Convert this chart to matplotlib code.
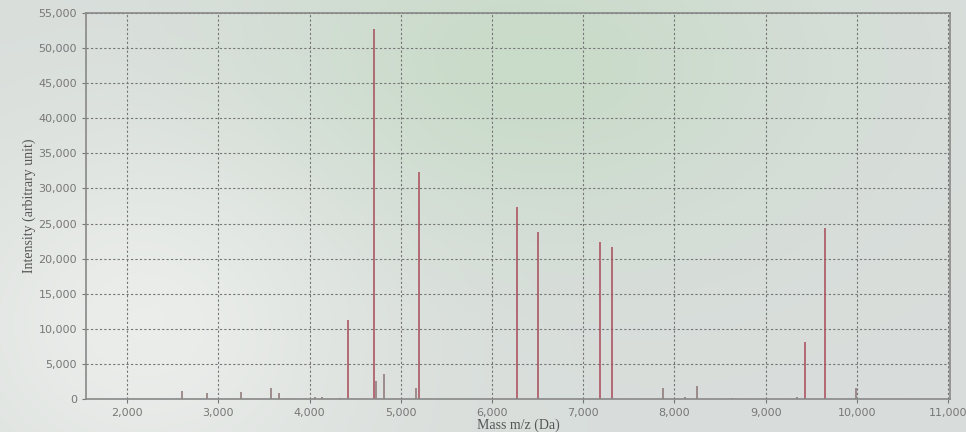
import numpy as np
import matplotlib
matplotlib.use("Agg")
import matplotlib.pyplot as plt
from matplotlib.ticker import FuncFormatter, MultipleLocator

# peak list (m/z in Da, intensity in arbitrary units)
mz = [2600, 2880, 3250, 3580, 3670, 4060, 4140, 4330, 4420, 4710, 4730, 4820,
      5170, 5200, 6270, 6500, 7180, 7310, 7870, 8120, 8250, 8630, 9340, 9430,
      9650, 9990]
intensity = [1100, 800, 1000, 1500, 900, 300, 300, 150, 11300, 52700, 2600, 3600,
             1600, 32300, 27300, 23800, 22400, 21700, 1500, 300, 1800, 200, 300, 8100,
             24300, 1600]

x_ticks = list(range(2000, 11001, 1000))
y_ticks = list(range(0, 55001, 5000))

fig = plt.figure(figsize=(9.66, 4.32), dpi=100)
fig.patch.set_facecolor("#dcdfdc")

# photo-like background tint behind everything
bg = fig.add_axes([0, 0, 1, 1], zorder=-1)
yy, xx = np.mgrid[0:1:200j, 0:1:400j]
green = np.exp(-((xx - 0.55) ** 2 / 0.08 + (yy - 0.15) ** 2 / 0.15))
light = np.exp(-((xx - 0.15) ** 2 / 0.05 + (yy - 0.75) ** 2 / 0.2))
base = np.array([0.85, 0.87, 0.86])
img = (base[None, None, :]
       + green[..., None] * np.array([-0.06, -0.01, -0.07])[None, None, :]
       + light[..., None] * np.array([0.07, 0.06, 0.06])[None, None, :])
bg.imshow(np.clip(img, 0, 1), aspect="auto", extent=[0, 1, 0, 1], origin="upper")
bg.axis("off")

ax = fig.add_axes([86 / 966, 33 / 432, (950 - 86) / 966, (419 - 33) / 432])
ax.patch.set_alpha(0)

for m, h in zip(mz, intensity):
    col = "#a84a58" if h > 5000 else "#8c7474"
    ax.vlines(m, 0, h, color=col, linewidth=1.1)

ax.set_xlim(1550, 11020)
ax.set_ylim(0, 55000)
ax.set_xticks(x_ticks)
ax.set_yticks(y_ticks)
fmt = FuncFormatter(lambda v, p: f"{int(v):,}")
ax.xaxis.set_major_formatter(fmt)
ax.yaxis.set_major_formatter(fmt)
ax.tick_params(labelsize=8, colors="#777777", length=3)
ax.grid(True, linestyle=(0, (2, 2)), color="#757575", linewidth=0.8)
for s in ax.spines.values():
    s.set_color("#888888")
    s.set_linewidth(1.2)

ax.set_ylabel("Intensity (arbitrary unit)", family="Liberation Serif",
              fontsize=10, color="#555555", labelpad=2)
ax.set_xlabel("Mass m/z (Da)", family="Liberation Serif", fontsize=10,
              color="#555555", labelpad=0)

plt.savefig("out.png", dpi=100)
